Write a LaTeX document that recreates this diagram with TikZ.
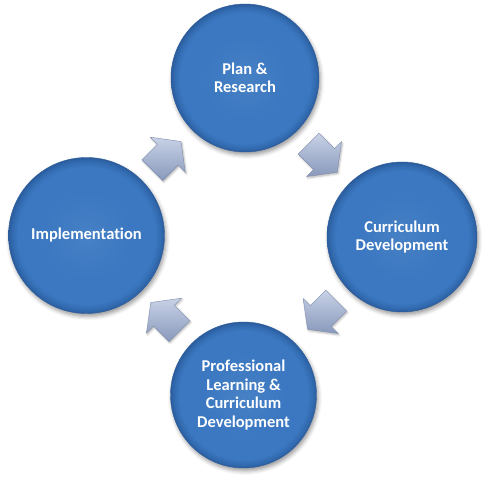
\documentclass[tikz,border=0pt]{standalone}
\usepackage{fontspec}
\setmainfont[Ligatures=NoCommon]{Carlito}
\usetikzlibrary{shapes.arrows, shadows.blur, calc}
\definecolor{stageblue}{HTML}{3B78C1}
\definecolor{stagerim}{HTML}{3169AE}
\definecolor{stagedark}{HTML}{2B5C9C}
\definecolor{flowlight}{HTML}{C8D2E7}
\definecolor{flowmid}{HTML}{A9B8D6}
\definecolor{flowdark}{HTML}{8999BC}
\definecolor{flowedge}{HTML}{7E8DAC}
\pgfdeclareradialshading{stageball}{\pgfpoint{0bp}{0bp}}{%
  color(0bp)=(stageblue!94!white); color(14bp)=(stageblue);
  color(22bp)=(stageblue); color(24bp)=(stagerim);
  color(25bp)=(stagedark); color(50bp)=(stagedark)}

\begin{document}
\begin{tikzpicture}[
    x=1pt, y=1pt,
    stage/.style={circle, shading=stageball, draw=stagedark, thin,
      text=white, align=center, inner sep=0pt,
      font=\bfseries\fontsize{16.5}{18.5}\selectfont,
      blur shadow={shadow xshift=1.5pt, shadow yshift=-3pt,
        shadow blur radius=4pt, shadow opacity=40}},
    flow/.style={single arrow, draw=flowedge, thin,
      top color=flowlight, middle color=flowmid, bottom color=flowdark,
      minimum height=38pt, inner sep=14.5pt,
      single arrow head extend=10pt, single arrow tip angle=106,
      blur shadow={shadow xshift=1pt, shadow yshift=-1.5pt,
        shadow blur radius=2pt, shadow opacity=30}},
]
    \useasboundingbox (0,0) rectangle (485,481);

    % Stages of the cycle
    \node[stage, minimum size=148pt] (plan) at (245,403) {Plan \&\\Research};
    \node[stage, minimum size=150pt] (curr) at (402,244) {Curriculum\\Development};
    \node[stage, minimum size=146pt] (prof) at (243.5,86) {Professional\\Learning \&\\Curriculum\\Development};
    \node[stage, minimum size=156pt] (impl) at (86.5,245.5) {Implementation};

    % Block arrows between stages
    \node[flow, rotate=45] (toplan) at ($(impl)!0.5!(plan)+(-3,-3)$) {};
    \node[flow, rotate=-45] (tocurr) at ($(plan)!0.5!(curr)+(-4.5,3.5)$) {};
    \node[flow, rotate=-135] (toprof) at ($(curr)!0.5!(prof)+(3,5)$) {};
    \node[flow, rotate=135] (toimpl) at ($(prof)!0.5!(impl)+(4,-5.5)$) {};
\end{tikzpicture}
\end{document}
